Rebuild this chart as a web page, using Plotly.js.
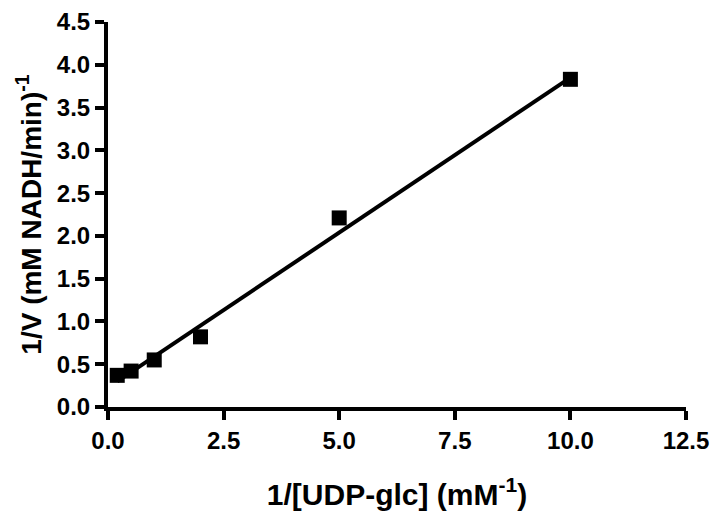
<!DOCTYPE html>
<html>
<head>
<meta charset="utf-8">
<script src="https://cdn.plot.ly/plotly-3.0.1.min.js"></script>
<style>html,body{margin:0;padding:0;background:#fff;}#chart{width:717px;height:518px;}</style>
</head>
<body>
<div id="chart"></div>
<script>
// Data
const invSubstrate = [0.2, 0.5, 1.0, 2.0, 5.0, 10.0];      // 1/[UDP-glc] (mM^-1)
const invVelocity  = [0.37, 0.42, 0.55, 0.82, 2.21, 3.83]; // 1/V
const fitX = [0.2, 10.0];
const fitY = [0.30, 3.85];
const xTicks = [0, 2.5, 5, 7.5, 10, 12.5];
const xTickText = ["0.0", "2.5", "5.0", "7.5", "10.0", "12.5"];
const yTicks = [0, 0.5, 1, 1.5, 2, 2.5, 3, 3.5, 4, 4.5];
const yTickText = ["0.0", "0.5", "1.0", "1.5", "2.0", "2.5", "3.0", "3.5", "4.0", "4.5"];

const font = "Liberation Sans, Arial, sans-serif";

const traces = [
  {x: fitX, y: fitY, mode: "lines", line: {color: "#000", width: 4}, hoverinfo: "skip", cliponaxis: false},
  {x: invSubstrate, y: invVelocity, mode: "markers", marker: {symbol: "square", size: 15, color: "#000"}, cliponaxis: false}
];

const layout = {
  width: 717, height: 518,
  margin: {l: 108, r: 31, t: 22, b: 111},
  paper_bgcolor: "#fff", plot_bgcolor: "#fff",
  showlegend: false,
  font: {family: font, color: "#000"},
  xaxis: {
    range: [0, 12.5], tickvals: xTicks, ticktext: xTickText,
    showgrid: false, zeroline: false, showline: true, linewidth: 4, linecolor: "#000",
    ticks: "outside", ticklen: 9, tickwidth: 4, tickcolor: "#000",
    tickfont: {family: font, size: 24, color: "#000", weight: "bold"},
    title: {text: "<b>1/[UDP-glc] (mM<sup>-1</sup>)</b>", font: {family: font, size: 30, color: "#000"}, standoff: 32}
  },
  yaxis: {
    range: [0, 4.5], tickvals: yTicks, ticktext: yTickText,
    showgrid: false, zeroline: false, showline: true, linewidth: 4, linecolor: "#000",
    ticks: "outside", ticklen: 9, tickwidth: 4, tickcolor: "#000",
    tickfont: {family: font, size: 24, color: "#000", weight: "bold"},
    title: {text: "<b>1/V (mM NADH/min)<sup>-1</sup></b>", font: {family: font, size: 28, color: "#000"}, standoff: 8}
  }
};

Plotly.newPlot("chart", traces, layout, {displayModeBar: false, staticPlot: true});
</script>
</body>
</html>
